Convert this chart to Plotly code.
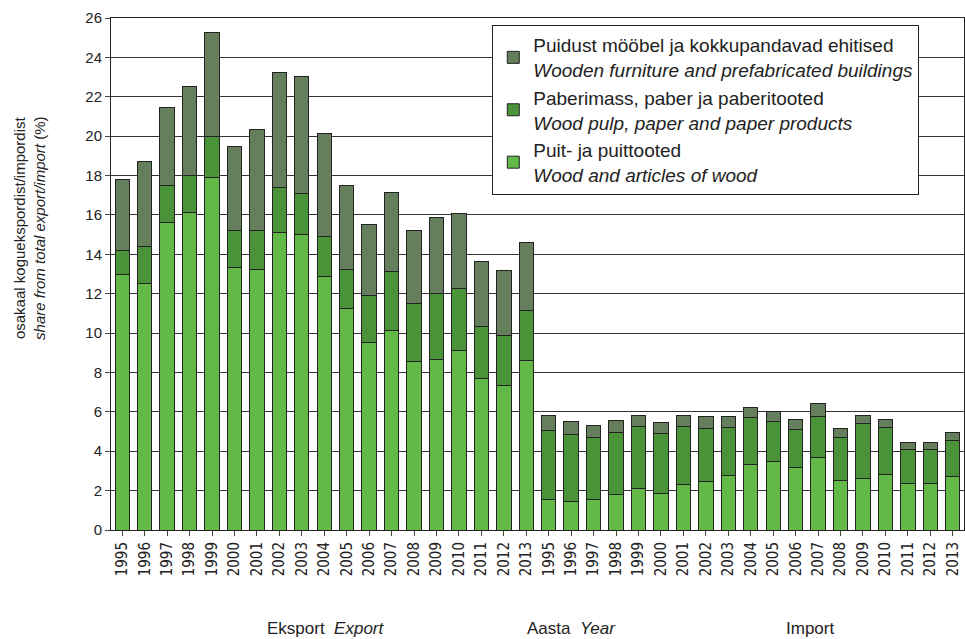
import plotly.graph_objects as go

years = [str(y) for y in range(1995, 2014)]

# cumulative stack tops (export then import)
exp_wood = [13.0, 12.5, 15.6, 16.1, 17.9, 13.35, 13.25, 15.1, 15.0, 12.85,
            11.25, 9.5, 10.15, 8.55, 8.65, 9.1, 7.7, 7.35, 8.6]
exp_paper_top = [14.2, 14.4, 17.5, 18.0, 20.0, 15.2, 15.2, 17.4, 17.1, 14.9,
                 13.25, 11.9, 13.15, 11.5, 12.0, 12.25, 10.35, 9.9, 11.15]
exp_total = [17.8, 18.7, 21.45, 22.5, 25.25, 19.45, 20.35, 23.25, 23.05, 20.15,
             17.5, 15.5, 17.15, 15.2, 15.85, 16.05, 13.65, 13.2, 14.6]

imp_wood = [1.55, 1.45, 1.55, 1.8, 2.1, 1.85, 2.3, 2.45, 2.75, 3.35,
            3.5, 3.15, 3.7, 2.5, 2.6, 2.8, 2.35, 2.35, 2.7]
imp_paper_top = [5.05, 4.85, 4.7, 4.95, 5.25, 4.9, 5.25, 5.15, 5.2, 5.7,
                 5.5, 5.1, 5.75, 4.7, 5.4, 5.2, 4.1, 4.1, 4.55]
imp_total = [5.8, 5.5, 5.3, 5.55, 5.8, 5.45, 5.8, 5.75, 5.75, 6.2,
             6.0, 5.6, 6.4, 5.15, 5.8, 5.6, 4.45, 4.45, 4.95]

wood = exp_wood + imp_wood
paper = [t - w for t, w in zip(exp_paper_top + imp_paper_top, wood)]
furniture = [t - p for t, p in zip(exp_total + imp_total, exp_paper_top + imp_paper_top)]
labels = years + years
xpos = list(range(len(labels)))

names = [
    "Puit- ja puittooted<br><i>Wood and articles of wood</i>",
    "Paberimass, paber ja paberitooted<br><i>Wood pulp, paper and paper products</i>",
    "Puidust mööbel ja kokkupandavad ehitised<br><i>Wooden furniture and prefabricated buildings</i>",
]
colors = ["#62b947", "#4a9339", "#657f5d"]

fig = go.Figure()
for i, vals in enumerate([wood, paper, furniture]):
    fig.add_trace(go.Bar(x=xpos, y=vals, name=names[i], legendgroup=str(i),
                         marker=dict(color=colors[i], line=dict(color="#222222", width=1))))

fig.update_layout(
    barmode="stack", bargap=0.36,
    width=965, height=639,
    margin=dict(l=111, r=1, t=18, b=109),
    plot_bgcolor="white", paper_bgcolor="white",
    font=dict(family="Liberation Sans, Arial", size=15, color="#222222"),
    legend=dict(x=0.447, y=0.986, xanchor="left", yanchor="top", traceorder="reversed",
                bgcolor="white", bordercolor="#222222", borderwidth=1,
                font=dict(size=19), tracegroupgap=0),
    xaxis=dict(tickmode="array", tickvals=xpos, ticktext=labels, tickangle=-90,
               range=[-0.5, len(labels) - 0.5], ticks="outside", ticklen=5,
               tickfont=dict(size=15, family="Liberation Sans Narrow, DejaVu Sans Condensed"),
               showline=True, linecolor="#222222", mirror=True, showgrid=False),
    yaxis=dict(range=[0, 26], dtick=2, ticks="outside", ticklen=5,
               showline=True, linecolor="#222222", mirror=True,
               gridcolor="#333333", gridwidth=1, tickfont=dict(size=15)),
)

fig.add_annotation(text="osakaal koguekspordist/impordist<br><i>share from total export/import</i> (%)",
                   x=-0.095, y=0.59, xref="paper", yref="paper", textangle=-90,
                   xanchor="center", yanchor="middle", showarrow=False, font=dict(size=15))
fig.add_annotation(text="Eksport  <i>Export</i>", x=0.252, y=-0.193, xref="paper", yref="paper",
                   xanchor="center", yanchor="middle", showarrow=False, font=dict(size=17))
fig.add_annotation(text="Aasta  <i>Year</i>", x=0.540, y=-0.193, xref="paper", yref="paper",
                   xanchor="center", yanchor="middle", showarrow=False, font=dict(size=17))
fig.add_annotation(text="Import", x=0.819, y=-0.193, xref="paper", yref="paper",
                   xanchor="center", yanchor="middle", showarrow=False, font=dict(size=17))

fig.write_html("out.html", config={"displayModeBar": False},
               post_script="document.body.style.margin='0px';")
